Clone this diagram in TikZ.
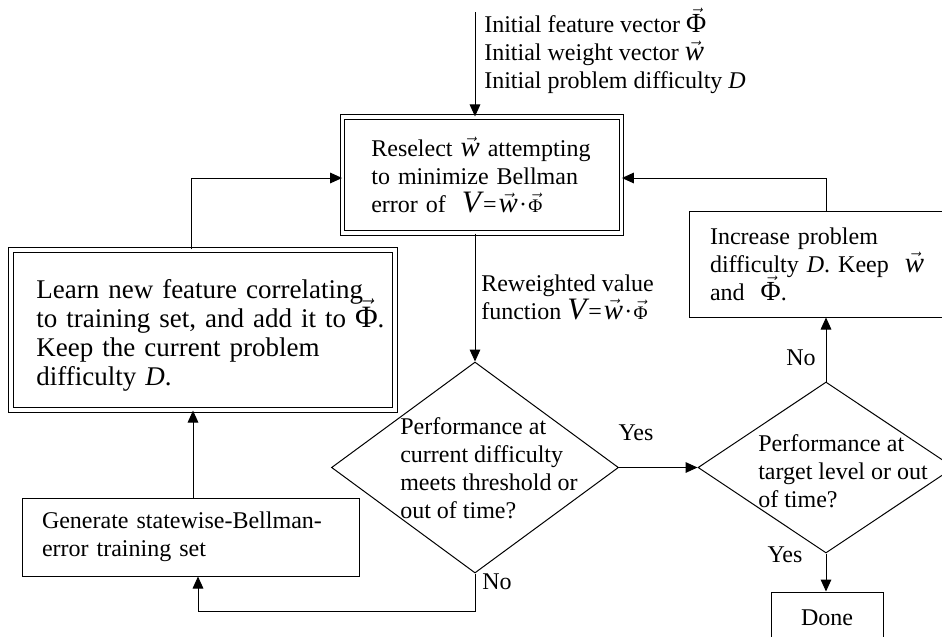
\documentclass[tikz,border=0pt]{standalone}
\usepackage{fontspec}
\setmainfont{Liberation Serif}
\usepackage{graphicx}
\usetikzlibrary{arrows.meta,shapes.geometric}
\newcommand\vw{\ensuremath{\vec{\mbox{\scalebox{1.2}{\itshape w}}}}}
\newcommand\vPhi{\ensuremath{\vec{\mbox{\scalebox{1.15}{Φ}}}}}
\newcommand\vPhis{\ensuremath{\vec{\mbox{\scalebox{0.8}{Φ}}}}}
\newcommand\bigV{\scalebox{1.3}{\itshape V}}
\newcommand\Vexpr{\bigV\kern1.5pt=\kern1.5pt\vw\kern1pt·\kern1pt\vPhis}
\protected\def\tightlines{\lineskiplimit=-100pt\relax}
\begin{document}
\begin{tikzpicture}[x=0.75pt,y=-0.75pt,
  every node/.style={font=\fontsize{18}{21}\selectfont\tightlines, inner sep=0pt},
  box/.style={draw, line width=0.75pt, rectangle, align=left},
  dbl/.style={draw, double, line width=0.9pt, double distance=2.4pt},
  dia/.style={draw, diamond, line width=0.75pt, inner sep=0pt},
  lbl/.style={align=left},
  arr/.style={-{Triangle[length=9pt,width=8pt]}, line width=0.75pt}]
\useasboundingbox (0,0) rectangle (942,636);
\clip (0,0) rectangle (942,636);

% boxes
\node[box, dbl, minimum width=209pt, minimum height=87pt, text width=166pt] (reselect) at (482,175)
  {Reselect \vw\ attempting\\to minimize Bellman\\error of \ \Vexpr};
\node[box, dbl, minimum width=288pt, minimum height=120pt, text width=250pt,
  font=\fontsize{20.25}{21.75}\selectfont\tightlines] (learn) at (203,330)
  {\rule{0pt}{22pt}Learn new feature correlating\\\mbox{to training set, and add it to \vPhi.}\\Keep the current problem\\difficulty \textit{D}.};
\node[box, minimum width=252.75pt, minimum height=58.5pt, text width=222.75pt] (generate) at (190.5,537)
  {Generate statewise-Bellman-\\error training set};
\node[box, minimum width=205.5pt, minimum height=79.5pt, text width=174pt] (increase) at (826,264)
  {Increase problem\\difficulty \textit{D}. Keep \ \vw\\and \ \vPhi.};
\node[box, minimum width=84pt, minimum height=39pt, align=center] (done) at (827,618) {Done};

% decisions
\node[dia, minimum width=215.25pt, minimum height=158.25pt] (d1) at (475,467.5) {};
\node[lbl, anchor=west] (d1txt) at (400,468)
  {Performance at\\current difficulty\\meets threshold or\\out of time?};
\node[dia, minimum width=192pt, minimum height=128.25pt] (d2) at (826,467.5) {};
\node[lbl, anchor=west] (d2txt) at (758,471)
  {Performance at\\target level or out\\of time?};

% free texts
\node[lbl, anchor=west] (init) at (484,55)
  {Initial feature vector \smash{\vPhi}\\Initial weight vector \vw\\Initial problem difficulty \textit{D}};
\node[lbl, anchor=west] (rew) at (481,297)
  {Reweighted value\\function \Vexpr};
\node (yes1) at (636,433) {Yes};
\node (no1) at (497,582) {No};
\node (no2) at (801,358) {No};
\node (yes2) at (785,555) {Yes};

% coordinates
\coordinate (topin) at (475,12);
\coordinate (ry) at (0,178);
\coordinate (lx) at (191,0);
\coordinate (ux) at (193,0);
\coordinate (nb) at (198,611);

% connectors
\draw[arr] (topin) -- (topin |- reselect.north);
\draw[arr] (reselect.south -| d1.north) -- (d1.north);
\draw[arr] (d1.east) -- (d2.west);
\draw[arr] (d2.north) -- (increase.south);
\draw[arr] (increase.north) |- (reselect.east |- ry);
\draw[arr] (d2.south) -- (d2.south |- done.north);
\draw[arr] (d1.south) |- (nb) -- (nb |- generate.south);
\draw[arr] (generate.north -| ux) -- (learn.south -| ux);
\draw[arr] (learn.north -| lx) |- (reselect.west |- ry);
\end{tikzpicture}
\end{document}
